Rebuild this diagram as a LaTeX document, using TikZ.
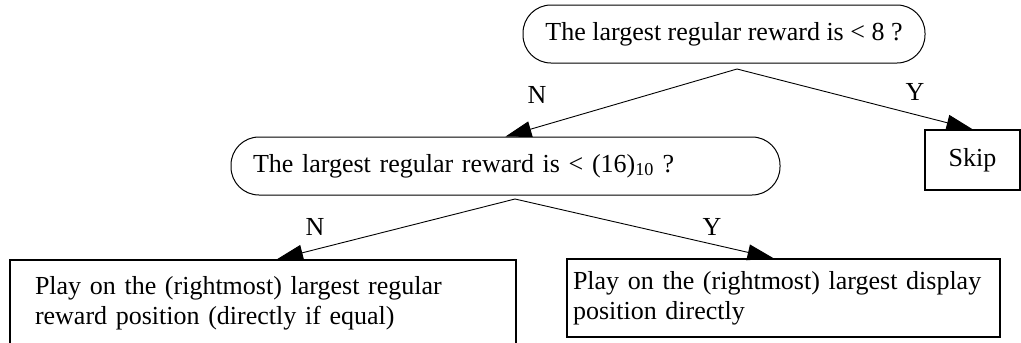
\documentclass[tikz,border=0pt]{standalone}
\usepackage{fontspec}
\setmainfont{Liberation Serif}
\usetikzlibrary{arrows.meta}
\tikzset{
  every node/.style={font=\fontsize{26}{30}\selectfont},
  decision/.style={draw, line width=1pt, rounded corners=28pt, inner sep=0pt},
  actionbox/.style={draw, line width=1.6pt, inner sep=0pt},
  conn/.style={line width=0.9pt, -{Triangle[length=26pt,width=16pt]}},
  lbl/.style={inner sep=0pt}
}
\begin{document}
\begin{tikzpicture}[x=1pt,y=-1pt]
\useasboundingbox (0,0) rectangle (1021,343);
\node[decision, minimum width=402pt, minimum height=58pt] (q1) at (724,34) {The largest regular reward is < 8 ?};
\node[decision, minimum width=549pt, minimum height=58pt, text width=505pt, align=left, inner xsep=22pt] (q2) at (505.5,166) {The largest regular reward is < (16)\textsubscript{10} ?};
\node[actionbox, minimum width=95pt, minimum height=60pt] (skip) at (972.5,160) {Skip};
\node[actionbox, minimum width=506pt, minimum height=86pt, text width=456pt, align=left, inner xsep=25pt] (lbox) at (263,303) {Play on the (rightmost) largest regular\\reward position (directly if equal)};
\node[actionbox, minimum width=433pt, minimum height=78pt, text width=421pt, align=left, inner xsep=6pt] (rbox) at (783.5,298) {Play on the (rightmost) largest display\\position directly};
\coordinate (c1) at (737,69);
\coordinate (c2) at (515,199);
\draw[conn] (c1) -- (q2.north);
\draw[conn] (c1) -- (skip.north);
\draw[conn] (c2) -- ([xshift=14pt]lbox.north);
\draw[conn] (c2) -- ([xshift=-10pt]rbox.north);
\node[lbl] (n1) at (537,95) {N};
\node[lbl] (y1) at (915,92) {Y};
\node[lbl] (n2) at (315,227) {N};
\node[lbl] (y2) at (712,227) {Y};
\end{tikzpicture}
\end{document}
